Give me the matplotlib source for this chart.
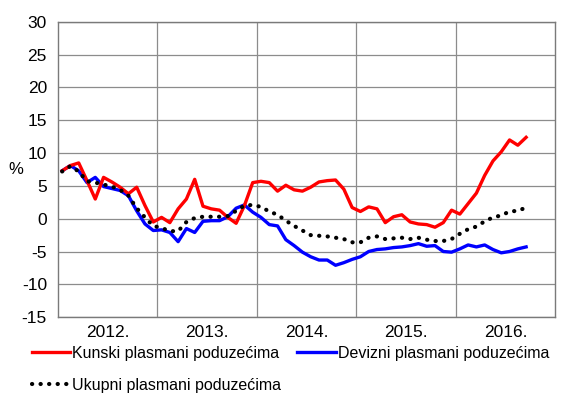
import matplotlib
matplotlib.use("Agg")
import matplotlib.pyplot as plt
import numpy as np
from matplotlib import font_manager

# ---- data (monthly, Jan 2012 - Sep 2016) ----
kunski = [7.3, 8.1, 8.5, 5.8, 3.0, 6.3, 5.6, 4.8, 3.8, 4.8, 2.0, -0.5,
          0.2, -0.6, 1.5, 3.0, 6.0, 1.9, 1.5, 1.3, 0.2, -0.7, 2.0, 5.5,
          5.7, 5.5, 4.2, 5.1, 4.4, 4.2, 4.8, 5.6, 5.8, 5.9, 4.5, 1.7,
          1.1, 1.8, 1.5, -0.6, 0.3, 0.6, -0.5, -0.8, -0.9, -1.3, -0.6, 1.3,
          0.7, 2.3, 3.9, 6.6, 8.8, 10.2, 12.0, 11.2, 12.4]
devizni = [7.3, 8.1, 7.3, 5.5, 6.3, 4.9, 4.6, 4.3, 3.5, 1.2, -0.8, -1.8,
           -1.7, -2.1, -3.5, -1.5, -2.1, -0.4, -0.3, -0.3, 0.3, 1.6, 2.1, 1.0,
           0.2, -0.9, -1.1, -3.2, -4.1, -5.1, -5.8, -6.3, -6.3, -7.1, -6.7, -6.2,
           -5.8, -5.0, -4.7, -4.6, -4.4, -4.3, -4.1, -3.8, -4.2, -4.1, -5.0, -5.1,
           -4.6, -4.0, -4.3, -4.0, -4.7, -5.2, -5.0, -4.6, -4.3]
ukupni = [7.2, 8.0, 7.2, 5.7, 5.5, 5.2, 4.9, 4.4, 3.5, 1.6, 0.2, -1.1,
          -1.4, -1.9, -1.9, -0.5, 0.1, 0.3, 0.3, 0.3, 0.4, 1.2, 2.0, 2.1,
          1.8, 1.1, 0.6, -0.3, -1.1, -1.8, -2.5, -2.6, -2.7, -2.9, -3.1, -3.6,
          -3.6, -2.9, -2.7, -3.1, -3.0, -2.9, -3.1, -2.9, -3.2, -3.4, -3.4, -3.1,
          -2.3, -1.6, -1.2, -0.4, 0.2, 0.5, 1.1, 1.2, 1.7]
years = ["2012.", "2013.", "2014.", "2015.", "2016."]
labels = ["Kunski plasmani poduzećima", "Devizni plasmani poduzećima",
          "Ukupni plasmani poduzećima"]
yticks = [-15, -10, -5, 0, 5, 10, 15, 20, 25, 30]

# ---- font ----
names = {f.name for f in font_manager.fontManager.ttflist}
fam = ["Liberation Sans Narrow", "Liberation Sans", "DejaVu Sans"]
fam = [f for f in fam if f in names] or ["DejaVu Sans"]
plt.rcParams["font.family"] = fam

x = 2012 + (np.arange(len(kunski)) + 0.5) / 12.0

fig = plt.figure(figsize=(5.63, 4.05), dpi=100)
ax = fig.add_axes([0.103, 0.217, 0.883, 0.729])

lb, = ax.plot(x, devizni, color="#0000ff", lw=2.4, solid_joinstyle="round")
lr, = ax.plot(x, kunski, color="#ff0000", lw=2.4, solid_joinstyle="round")
lk, = ax.plot(x, ukupni, color="black", lw=3.0, linestyle=(0, (0.05, 2.0)),
              dash_capstyle="round")

ax.set_xlim(2012, 2017)
ax.set_ylim(-15, 30)
ax.set_yticks(yticks)
ax.set_yticklabels([str(v) for v in yticks], fontsize=12.5)
ax.set_xticks([2013, 2014, 2015, 2016])
ax.set_xticklabels([])
ax.set_xticks([2012.5 + i for i in range(5)], minor=True)
ax.set_xticklabels(years, minor=True, fontsize=12.5)
ax.tick_params(axis="both", which="both", length=0, pad=8)
ax.tick_params(axis="x", which="minor", pad=6)

ax.grid(True, axis="y", color="#8c8c8c", lw=0.9)
ax.grid(True, axis="x", which="major", color="#8c8c8c", lw=0.9)
ax.set_axisbelow(True)
for s in ax.spines.values():
    s.set_color("#7a7a7a")
    s.set_linewidth(1.0)

ax.text(-0.085, 0.5, "%", transform=ax.transAxes, fontsize=12,
        ha="center", va="center")

# column-major order: col 1 = red, dotted ; col 2 = blue
fig.legend([lr, lk, lb], [labels[0], labels[2], labels[1]], loc="upper left",
           bbox_to_anchor=(0.045, 0.162), ncol=2, frameon=False,
           fontsize=11.5, handlelength=2.4, handletextpad=0.15,
           columnspacing=1.0, borderaxespad=0, labelspacing=1.05)

fig.savefig("out.png", dpi=100)
